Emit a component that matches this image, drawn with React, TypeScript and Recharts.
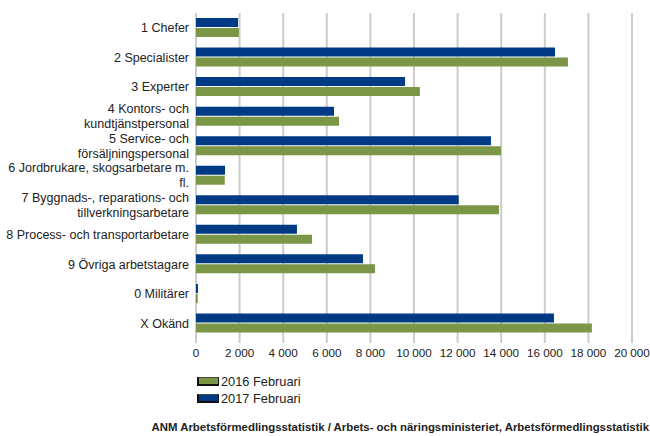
import React from "react";
import { BarChart, Bar, XAxis, YAxis, CartesianGrid } from "recharts";

const categories = [
  "1 Chefer",
  "2 Specialister",
  "3 Experter",
  "4 Kontors- och\nkundtjänstpersonal",
  "5 Service- och\nförsäljningspersonal",
  "6 Jordbrukare, skogsarbetare m.\nfl.",
  "7 Byggnads-, reparations- och\ntillverkningsarbetare",
  "8 Process- och transportarbetare",
  "9 Övriga arbetstagare",
  "0 Militärer",
  "X Okänd",
];
const feb2016 = [1970, 17060, 10270, 6560, 13990, 1320, 13900, 5320, 8210, 80, 18160];
const feb2017 = [1930, 16470, 9590, 6330, 13530, 1330, 12050, 4630, 7660, 90, 16420];
const xTicks = [0, 2000, 4000, 6000, 8000, 10000, 12000, 14000, 16000, 18000, 20000];
const seriesNames = ["2016 Februari", "2017 Februari"];

const data = categories.map((c, i) => ({ name: c, v2016: feb2016[i], v2017: feb2017[i] }));

const BLUE = "#003a84";
const GREEN = "#7a9646";
const FONT = "Liberation Sans";

const fmt = (v: number) => {
  const s = String(v);
  return s.length > 3 ? s.slice(0, s.length - 3) + " " + s.slice(s.length - 3) : s;
};

const YTick = (props: any) => {
  const { y, payload } = props;
  const lines = String(payload.value).split("\n");
  const lh = 15;
  const start = y - ((lines.length - 1) * lh) / 2;
  return (
    <text x={189} y={start} textAnchor="end" fontSize={12.5} fill="#222" style={{ fontFamily: FONT }}>
      {lines.map((l, i) => (
        <tspan key={i} x={189} y={start + i * lh} dy="0.35em">
          {l}
        </tspan>
      ))}
    </text>
  );
};

export default function App() {
  return (
    <div style={{ position: "absolute", left: 0, top: 0, width: 650, height: 436, background: "#fff", fontFamily: FONT }}>
      <BarChart
        width={650}
        height={436}
        data={data}
        layout="vertical"
        margin={{ top: 13, right: 18, bottom: 78, left: 0 }}
        barGap={1}
        barSize={9}
        style={{ fontFamily: FONT }}
      >
        <CartesianGrid horizontal={false} stroke="#cccccc" strokeWidth={2} />
        <XAxis
          type="number"
          domain={[0, 20000]}
          ticks={xTicks}
          interval={0}
          tickFormatter={fmt}
          axisLine={false}
          tickLine={{ stroke: "#cccccc", strokeWidth: 2 }}
          tickSize={5}
          tickMargin={6}
          height={20}
          tick={{ fontSize: 11.7, fill: "#222", style: { fontFamily: FONT } }}
        />
        <YAxis
          type="category"
          dataKey="name"
          width={196}
          axisLine={false}
          tickLine={false}
          interval={0}
          tick={<YTick />}
        />
        <Bar dataKey="v2017" name={seriesNames[1]} fill={BLUE} isAnimationActive={false} />
        <Bar dataKey="v2016" name={seriesNames[0]} fill={GREEN} isAnimationActive={false} />
      </BarChart>
      <div style={{ position: "absolute", left: 197, top: 373, fontSize: 12.8, color: "#222", lineHeight: "17px" }}>
        {[GREEN, BLUE].map((c, i) => (
          <div key={i} style={{ display: "flex", alignItems: "center", height: 17 }}>
            <span style={{ display: "inline-block", width: 22, height: 9, background: c, borderLeft: "2px solid #111", borderBottom: "2px solid #111", borderRight: "1px solid #111", borderTop: "1px solid #444", boxSizing: "border-box", marginRight: 2 }} />
            <span>{seriesNames[i]}</span>
          </div>
        ))}
      </div>
      <div style={{ position: "absolute", right: 1, top: 421, fontSize: 11.4, fontWeight: "bold", color: "#222", whiteSpace: "nowrap" }}>
        ANM Arbetsförmedlingsstatistik / Arbets- och näringsministeriet, Arbetsförmedlingsstatistik
      </div>
    </div>
  );
}
